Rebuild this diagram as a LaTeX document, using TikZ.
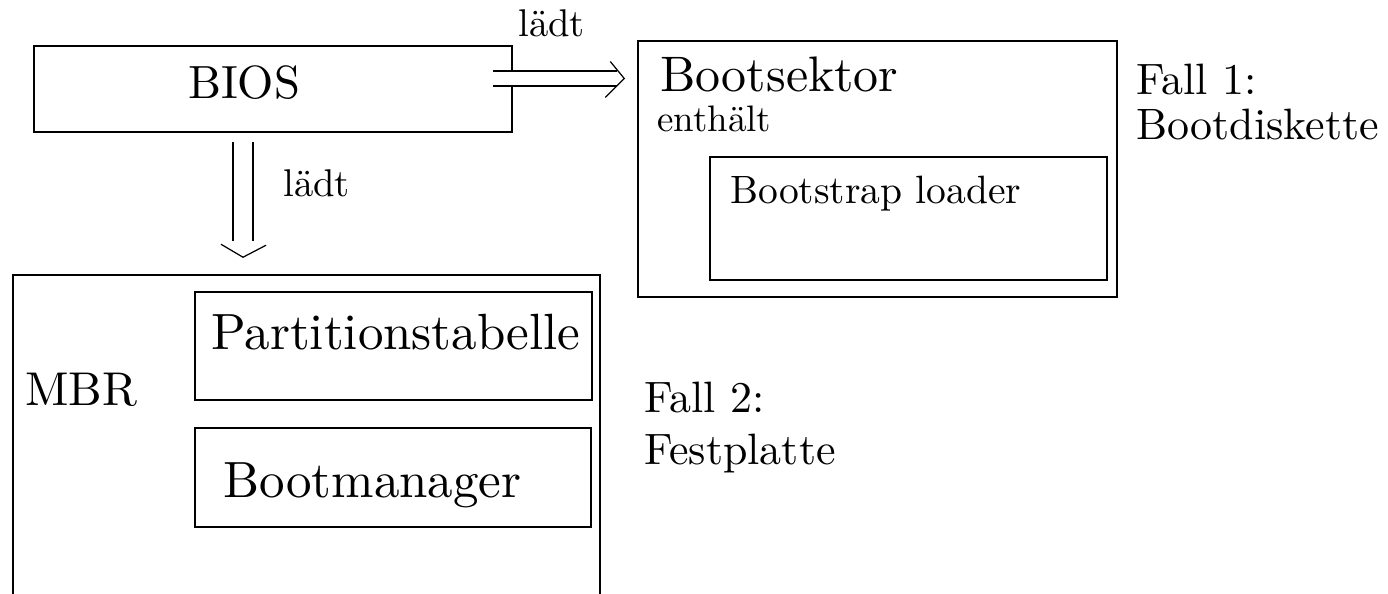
\documentclass[tikz,border=0pt]{standalone}
\usepackage{fontspec}
\setmainfont{lmroman10-regular}[Extension=.otf]
\usetikzlibrary{calc}

\begin{document}
\begin{tikzpicture}[x=0.02cm, y=-0.02cm,
  box/.style={draw, line width=0.9pt, inner sep=0pt},
  txt/.style={inner sep=0pt, anchor=base west},
  shaft/.style={double, line width=0.7pt},
  tip/.style={line width=0.7pt}]
\def\bigfont{\fontsize{29}{34}\selectfont}
\def\fallfont{\fontsize{25}{30}\selectfont}
\def\midfont{\fontsize{22.5}{27}\selectfont}

\useasboundingbox (0,0) rectangle (1388,594);

% boxes
\node[box, minimum width=9.56cm, minimum height=1.72cm] (bios) at (273,89) {};
\node[box, minimum width=9.58cm, minimum height=5.12cm] (boot) at (877.5,169) {};
\node[box, minimum width=7.94cm, minimum height=2.46cm] (loader) at (908.5,218.5) {};
\node[box, minimum width=11.74cm, minimum height=7.3cm] (mbr) at (306.5,457.5) {};
\node[box, minimum width=7.94cm, minimum height=2.16cm] (ptab) at (393.5,346) {};
\node[box, minimum width=7.92cm, minimum height=1.98cm] (bmgr) at (393,477.5) {};

% texts in the boxes
\node[txt, anchor=base] (biostext) at (244,99) {\fontsize{26.5}{34}\selectfont BIOS};
\node[txt] (boottext) at (660,92) {\fontsize{28.4}{34}\selectfont Bootsektor};
\node[txt] (enthaelt) at (657,132) {\fontsize{21}{25}\selectfont enthält};
\node[txt] (loadertext) at (730,204) {\midfont Bootstrap loader};
\node[txt] (mbrtext) at (25,405) {\fontsize{27}{34}\selectfont MBR};
\node[txt] (ptabtext) at (211,349) {\bigfont Partitionstabelle};
\node[txt] (bmgrtext) at (223,497) {\bigfont Bootmanager};

% the two cases
\node[txt] (fall1) at (1136,95) {\fallfont Fall 1:};
\node[txt] (diskette) at (1136,140) {\fallfont Bootdiskette};
\node[txt] (fall2) at (644,412) {\fallfont Fall 2:};
\node[txt] (platte) at (644,464) {\fallfont Festplatte};

% double arrows, open V heads
\coordinate (h0) at (493,78.5);
\coordinate (htip) at ($(h0 -| boot.west)+(-13,0)$);
\draw[shaft, double distance=7.8pt] (h0) -- ($(htip)+(-7,0)$);
\draw[tip] ($(htip)+(-14,-17)$) -- (htip) -- ++(-19,19);

\coordinate (v0) at (243,142);
\coordinate (vtip) at ($(v0 |- mbr.north)+(0,-17)$);
\draw[shaft, double distance=10.7pt] (v0) -- ($(vtip)+(0,-16)$);
\draw[tip] ($(vtip)+(-22,-13)$) -- (vtip) -- ++(23,-12);

\node[txt] (laedt1) at (518,37) {\fontsize{22}{26}\selectfont lädt};
\node[txt] (laedt2) at (283,197) {\fontsize{22}{26}\selectfont lädt};

\end{tikzpicture}
\end{document}
